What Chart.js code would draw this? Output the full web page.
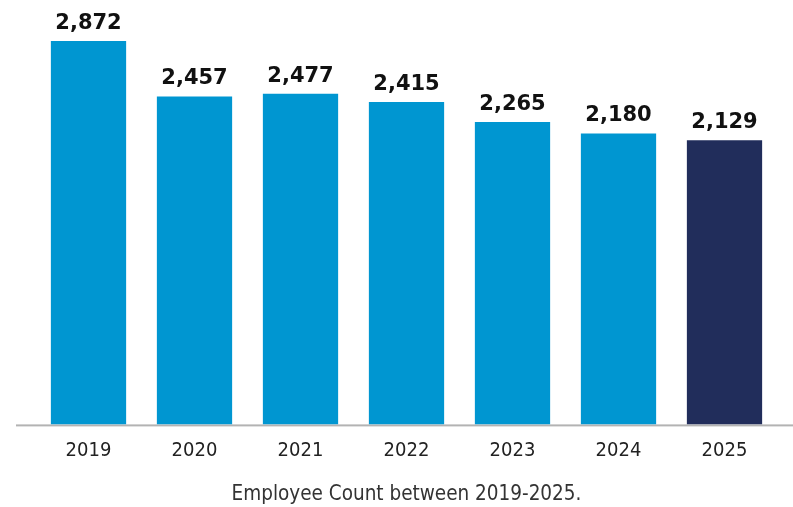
<!DOCTYPE html>
<html>
<head>
<meta charset="utf-8">
<script src="https://cdn.jsdelivr.net/npm/chart.js@4/dist/chart.umd.min.js"></script>
<style>
  html, body { margin: 0; padding: 0; background: #fff; }
  #wrap { width: 793px; height: 507px; }
</style>
</head>
<body>
<div id="wrap"><canvas id="chart"></canvas></div>
<script>
const years = ['2019', '2020', '2021', '2022', '2023', '2024', '2025'];
const employees = [2872, 2457, 2477, 2415, 2265, 2180, 2129];
const barColors = ['#0096d1', '#0096d1', '#0096d1', '#0096d1', '#0096d1', '#0096d1', '#212d5b'];
const captionText = 'Employee Count between 2019-2025.';

const narrowFont = '"Liberation Sans Narrow", "DejaVu Sans Condensed", "Open Sans", sans-serif';

// baseline rule that runs past the bars on both sides
const baseLine = {
  id: 'baseLine',
  beforeDatasetsDraw(chart) {
    const { ctx, chartArea } = chart;
    ctx.save();
    ctx.fillStyle = '#b3b3b3';
    ctx.fillRect(16, chartArea.bottom, chart.width - 16, 2);
    ctx.restore();
  }
};

// bold numbers above each bar
const valueLabels = {
  id: 'valueLabels',
  afterDatasetsDraw(chart) {
    const { ctx } = chart;
    const meta = chart.getDatasetMeta(0);
    ctx.save();
    ctx.font = 'bold 21px "DejaVu Sans", sans-serif';
    ctx.fillStyle = '#111';
    ctx.textAlign = 'center';
    ctx.textBaseline = 'alphabetic';
    meta.data.forEach((bar, i) => {
      const v = chart.data.datasets[0].data[i];
      ctx.fillText(v.toLocaleString('en-US'), bar.x, bar.y - 12);
    });
    ctx.restore();
  }
};

new Chart(document.getElementById('chart'), {
  type: 'bar',
  data: {
    labels: years,
    datasets: [{
      data: employees,
      backgroundColor: barColors,
      borderWidth: 0,
      barPercentage: 0.71,
      categoryPercentage: 1
    }]
  },
  options: {
    responsive: true,
    maintainAspectRatio: false,
    animation: false,
    layout: { padding: { left: 35.5, right: 15.5, top: 24, bottom: 0 } },
    scales: {
      y: { display: false, min: 0, max: 3000 },
      x: {
        grid: { display: false, drawTicks: false },
        border: { display: false },
        ticks: {
          color: '#222',
          padding: 14,
          font: { family: narrowFont, size: 20 }
        }
      }
    },
    plugins: {
      legend: { display: false },
      tooltip: { enabled: false },
      title: {
        display: true,
        position: 'bottom',
        text: captionText,
        color: '#333',
        padding: { top: 6, bottom: 0 },
        font: { family: narrowFont, size: 20.5, weight: 'normal' }
      }
    }
  },
  plugins: [baseLine, valueLabels]
});
</script>
</body>
</html>
